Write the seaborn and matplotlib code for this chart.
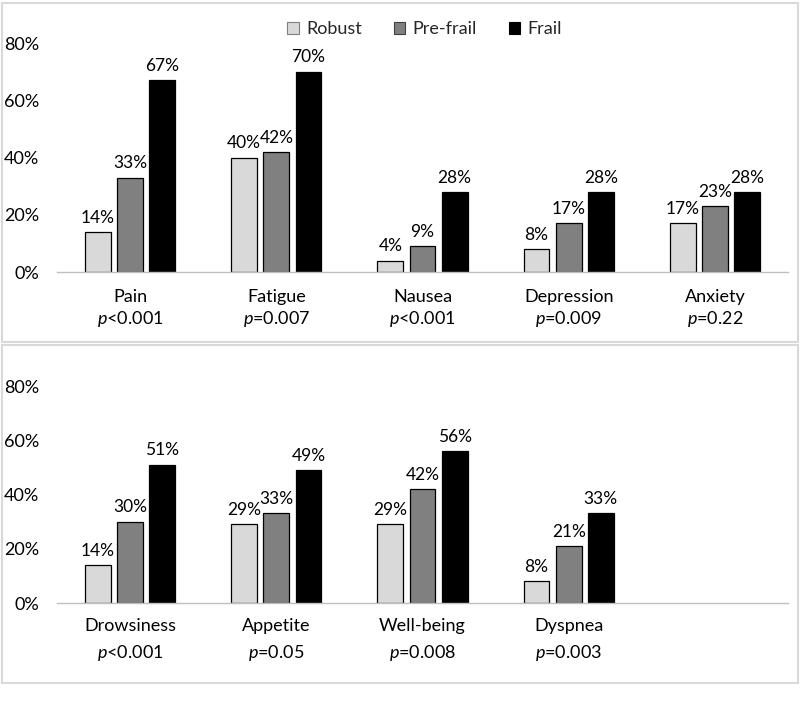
import numpy as np
import pandas as pd
import seaborn as sns
import matplotlib.pyplot as plt
from matplotlib.patches import Rectangle, Patch
from matplotlib.ticker import PercentFormatter

# Data (percent of patients)
groups = ['Robust', 'Pre-frail', 'Frail']

top_symptoms = ['Pain', 'Fatigue', 'Nausea', 'Depression', 'Anxiety']
top_pvals = ['<0.001', '=0.007', '<0.001', '=0.009', '=0.22']
top_robust = [14, 40, 4, 8, 17]
top_prefrail = [33, 42, 9, 17, 23]
top_frail = [67, 70, 28, 28, 28]

bot_symptoms = ['Drowsiness', 'Appetite', 'Well-being', 'Dyspnea']
bot_pvals = ['<0.001', '=0.05', '=0.008', '=0.003']
bot_robust = [14, 29, 29, 8]
bot_prefrail = [30, 33, 42, 21]
bot_frail = [51, 49, 56, 33]

colors = ['#d9d9d9', '#808080', '#000000']

sns.set_theme(style='white')
plt.rcParams['font.family'] = ['Lato', 'DejaVu Sans']
plt.rcParams['mathtext.fontset'] = 'custom'
plt.rcParams['mathtext.it'] = 'Lato:italic'
plt.rcParams['mathtext.rm'] = 'Lato'


def to_long(symptoms, robust, prefrail, frail):
    rows = []
    for vals, g in zip([robust, prefrail, frail], groups):
        for s, v in zip(symptoms, vals):
            rows.append({'symptom': s, 'group': g, 'value': v / 100})
    return pd.DataFrame(rows)


fig = plt.figure(figsize=(8, 7.08), dpi=100)

# panel frames
fig.patches.append(Rectangle((0.003, 0.517), 0.994, 0.479, transform=fig.transFigure,
                             fill=False, edgecolor='#d9d9d9', linewidth=1.5))
fig.patches.append(Rectangle((0.003, 0.035), 0.994, 0.478, transform=fig.transFigure,
                             fill=False, edgecolor='#d9d9d9', linewidth=1.5))

ax1 = fig.add_axes([0.07125, 0.6158, 0.91375, 0.3234])
ax2 = fig.add_axes([0.07125, 0.1483, 0.91375, 0.3065])

panels = [
    (ax1, top_symptoms, top_pvals, top_robust, top_prefrail, top_frail, 1.3, 12),
    (ax2, bot_symptoms, bot_pvals, bot_robust, bot_prefrail, bot_frail, 1.55, 11),
]

for ax, symptoms, pvals, r, pf, f, lsp, xpad in panels:
    df = to_long(symptoms, r, pf, f)
    order = symptoms + [''] * (5 - len(symptoms))
    sns.barplot(data=df, x='symptom', y='value', hue='group', order=order,
                hue_order=groups, palette=colors, width=0.66, gap=0.2,
                edgecolor='black', linewidth=0.9, ax=ax, legend=False)
    for cont in ax.containers:
        labels = ['{:.0f}%'.format(b.get_height() * 100) for b in cont]
        ax.bar_label(cont, labels=labels, padding=4.5, fontsize=12.5, color='black')
    ax.set_ylim(0, 0.8)
    ax.set_xlim(-0.5, 4.5)
    ax.set_yticks([0, 0.2, 0.4, 0.6, 0.8])
    ax.yaxis.set_major_formatter(PercentFormatter(1.0, decimals=0))
    ticklabels = ['{}\n$\\mathit{{p}}${}'.format(s, p) for s, p in zip(symptoms, pvals)]
    ticklabels += [''] * (5 - len(symptoms))
    ax.set_xticks(range(5))
    ax.set_xticklabels(ticklabels, linespacing=lsp)
    ax.tick_params(axis='both', length=0, labelsize=13, colors='black')
    ax.tick_params(axis='y', pad=13)
    ax.tick_params(axis='x', pad=xpad)
    ax.set_xlabel('')
    ax.set_ylabel('')
    for side in ['top', 'right', 'left']:
        ax.spines[side].set_visible(False)
    ax.spines['bottom'].set_color('#bfbfbf')
    ax.spines['bottom'].set_linewidth(1)
    ax.set_facecolor('white')

handles = [Patch(facecolor=c, edgecolor=e, linewidth=0.8)
           for c, e in zip(colors, ['#7f7f7f', '#404040', '#000000'])]
fig.legend(handles, groups, loc='center', bbox_to_anchor=(0.531, 0.959), ncol=3,
           frameon=False, fontsize=13, handlelength=0.65, handleheight=0.65,
           handletextpad=0.4, columnspacing=1.75)

fig.savefig('out.png', dpi=100, facecolor='white')
